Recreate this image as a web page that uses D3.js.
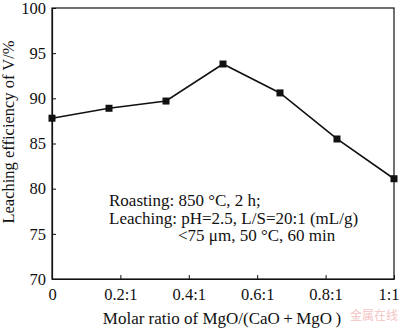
<!DOCTYPE html>
<html><head><meta charset="utf-8">
<script src="https://cdn.jsdelivr.net/npm/d3@7"></script>
<style>body{margin:0;background:#fff}svg{display:block}text{font-family:"Liberation Serif","Times New Roman",serif}</style>
</head><body>
<script>
const ratios = [0, 1/6, 2/6, 3/6, 4/6, 5/6, 1];
const leaching = [87.8, 88.9, 89.7, 93.8, 90.6, 85.5, 81.1];
const xTicks = [0, 0.2, 0.4, 0.6, 0.8, 1];
const xTickLabels = ["0", "0.2:1", "0.4:1", "0.6:1", "0.8:1", "1:1"];
const yTicks = [70, 75, 80, 85, 90, 95, 100];
const notes = ["Roasting: 850 °C, 2 h;", "Leaching: pH=2.5, L/S=20:1 (mL/g)", "<75 μm, 50 °C, 60 min"];

const W = 400, H = 328;
const m = {l: 52, r: 6, t: 8, b: 49};
const svg = d3.select("body").append("svg").attr("width", W).attr("height", H);
const x = d3.scaleLinear().domain([0, 1]).range([m.l, W - m.r]);
const y = d3.scaleLinear().domain([70, 100]).range([H - m.b, m.t]);

svg.append("rect").attr("x", x(0)).attr("y", y(100)).attr("width", x(1) - x(0)).attr("height", y(70) - y(100))
  .attr("fill", "none").attr("stroke", "#111").attr("stroke-width", 1.2);

const xa = svg.append("g").attr("transform", `translate(0,${y(70)})`)
  .call(d3.axisBottom(x).tickValues(xTicks).tickFormat((d, i) => xTickLabels[i]).tickSizeInner(-4).tickSizeOuter(0).tickPadding(9));
const ya = svg.append("g").attr("transform", `translate(${x(0)},0)`)
  .call(d3.axisLeft(y).tickValues(yTicks).tickSizeInner(-4).tickSizeOuter(0).tickPadding(6));
[xa, ya].forEach(g => {
  g.select(".domain").attr("stroke", "#111").attr("stroke-width", 1.2);
  g.selectAll(".tick line").attr("stroke", "#111").attr("stroke-width", 1);
  g.selectAll(".tick text").style("font-family", '"Liberation Serif",serif').style("font-size", "16.5px").style("fill", "#111");
});
// keep the last x label inside the window
xa.selectAll(".tick text").filter(d => d === 1).attr("text-anchor", "end").attr("dx", 5);

const line = d3.line().x((d, i) => x(ratios[i])).y(d => y(d));
svg.append("path").datum(leaching).attr("d", line).attr("fill", "none").attr("stroke", "#111").attr("stroke-width", 1.6);
const s = 7;
svg.selectAll("rect.pt").data(leaching).enter().append("rect").attr("class", "pt")
  .attr("x", (d, i) => x(ratios[i]) - s / 2).attr("y", d => y(d) - s / 2).attr("width", s).attr("height", s).attr("fill", "#111");

const nx = [109, 109, 178], ny = [206, 223.5, 241];
svg.selectAll("text.note").data(notes).enter().append("text").attr("class", "note")
  .attr("x", (d, i) => nx[i]).attr("y", (d, i) => ny[i]).style("font-size", "17px").style("fill", "#111").text(d => d);

svg.append("text").attr("x", 222).attr("y", 324).attr("text-anchor", "middle").style("font-size", "17px").style("fill", "#111")
  .text("Molar ratio of MgO/(CaO\u2009+\u2009MgO\u2009)");
svg.append("text").attr("transform", "translate(14,132) rotate(-90)").attr("text-anchor", "middle").style("font-size", "16.5px").style("fill", "#111")
  .text("Leaching efficiency of V/%");

svg.append("text").attr("x", 398).attr("y", 320).attr("text-anchor", "end")
  .style("font-family", '"Noto Sans CJK SC",sans-serif').style("font-size", "12px").style("fill", "#f4c4c4").text("金属在线");
</script>
</body></html>
